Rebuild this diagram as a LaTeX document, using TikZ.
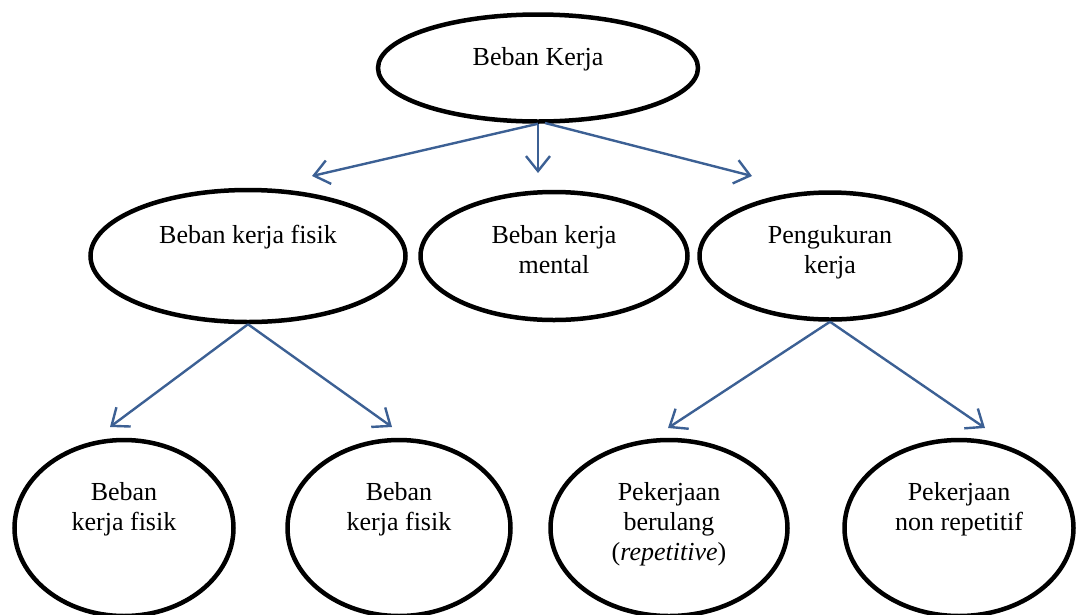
\documentclass[tikz,border=0pt]{standalone}
\usepackage{fontspec}
\setmainfont{Liberation Serif}
\usetikzlibrary{shapes.geometric,arrows.meta}
\definecolor{arrowblue}{RGB}{60,96,148}
\begin{document}
\begin{tikzpicture}[x=1pt,y=-1pt,
  oval/.style={draw=black,line width=4.5pt,ellipse,inner sep=0pt},
  lbl/.style={font=\fontsize{26}{30}\selectfont,align=center,anchor=base,inner sep=0pt},
  conn/.style={draw=arrowblue,line width=2.4pt,-{Straight Barb[length=15pt,width=24pt,line width=2.4pt]}}]
\useasboundingbox (0,0) rectangle (1077,614);
\clip (0,0) rectangle (1077,614);
% ellipses
\node[oval,minimum width=320pt,minimum height=107pt] (top) at (538,68) {};
\node[oval,minimum width=315pt,minimum height=132pt] (fis) at (248,256) {};
\node[oval,minimum width=267pt,minimum height=128pt] (men) at (554,256) {};
\node[oval,minimum width=261pt,minimum height=127pt] (ukr) at (830,256) {};
\node[oval,minimum width=219pt,minimum height=176pt] (b1) at (124,528) {};
\node[oval,minimum width=223pt,minimum height=176pt] (b2) at (399,528) {};
\node[oval,minimum width=237pt,minimum height=176pt] (b3) at (669,528) {};
\node[oval,minimum width=229pt,minimum height=176pt] (b4) at (959,528) {};
% texts (anchor base = baseline of the last line)
\node[lbl] (ttop) at (538,65) {Beban Kerja};
\node[lbl] (tfis) at (248,243) {Beban kerja fisik};
\node[lbl] (tmen) at (554,273) {Beban kerja\\mental};
\node[lbl] (tukr) at (830,273) {Pengukuran\\kerja};
\node[lbl] (tb1) at (124,530) {Beban\\kerja fisik};
\node[lbl] (tb2) at (399,530) {Beban\\kerja fisik};
\node[lbl] (tb3) at (669,560) {Pekerjaan\\berulang\\(\textit{repetitive})};
\node[lbl] (tb4) at (959,530) {Pekerjaan\\non repetitif};
% arrow ends
\coordinate (e1) at (312,176);
\coordinate (e2) at (538,173);
\coordinate (e3) at (752,176);
\coordinate (e4) at (110,427);
\coordinate (e5) at (392,427);
\coordinate (e6) at (668,428);
\coordinate (e7) at (985,428);
\coordinate (s3) at (545,123);
% connectors
\draw[conn] (top.south) -- (e1);
\draw[conn] (top.south) -- (e2);
\draw[conn] (s3) -- (e3);
\draw[conn] (fis.south) -- (e4);
\draw[conn] (fis.south) -- (e5);
\draw[conn] (ukr.south) -- (e6);
\draw[conn] (ukr.south) -- (e7);
\end{tikzpicture}
\end{document}
